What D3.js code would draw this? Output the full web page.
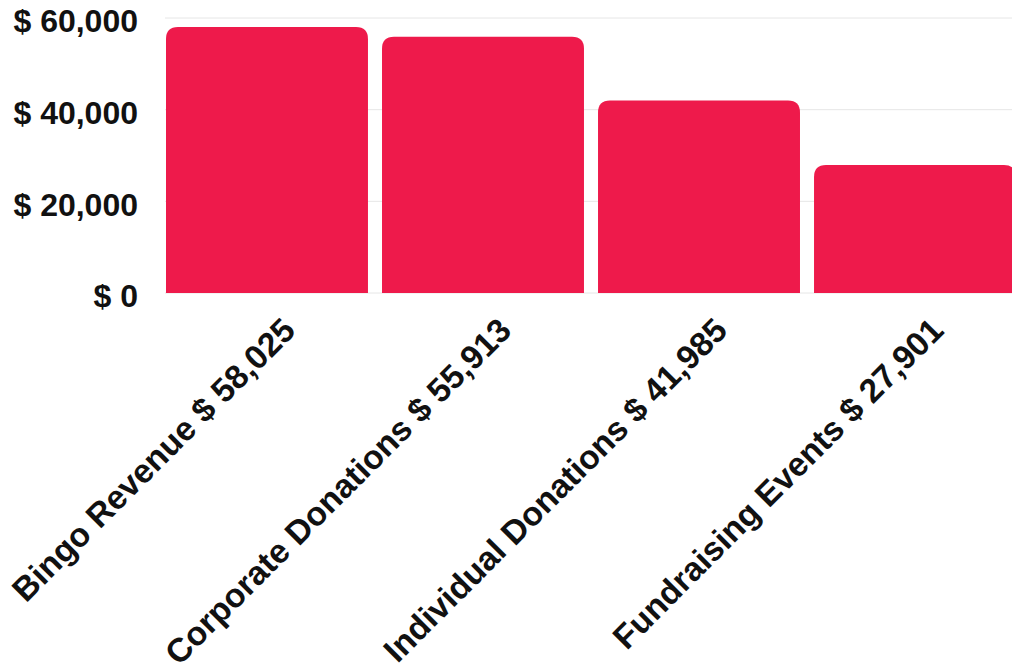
<!DOCTYPE html>
<html><head><meta charset="utf-8">
<script src="https://cdn.jsdelivr.net/npm/d3@7"></script>
<style>body{margin:0;background:#fff;overflow:hidden}svg{display:block}</style>
</head><body>
<svg id="c" width="1012" height="668"></svg>
<script>
const categories = ["Bingo Revenue", "Corporate Donations", "Individual Donations", "Fundraising Events"];
const values = [58025, 55913, 41985, 27901];
const yTicks = [0, 20000, 40000, 60000];

const svg = d3.select("#c");
const x = d3.scaleBand().domain(categories).range([166, 1016]).paddingInner(0.065).paddingOuter(0);
const y = d3.scaleLinear().domain([0, 60000]).range([293, 18]);
const fmt = v => "$ " + d3.format(",")(v);
const font = "'Liberation Sans', Arial, sans-serif";

// gridlines
svg.append("g").selectAll("line").data(yTicks).join("line")
  .attr("x1", 165).attr("x2", 1012)
  .attr("y1", d => y(d)).attr("y2", d => y(d))
  .attr("stroke", "#e6e6e6").attr("stroke-width", 1);

// y labels
svg.append("g").selectAll("text").data(yTicks).join("text")
  .attr("x", 138).attr("y", d => y(d) + 3).attr("dy", "0.35em")
  .attr("text-anchor", "end")
  .style("font-family", font).style("font-weight", "bold").style("font-size", "32px")
  .attr("fill", "#111").text(d => fmt(d));

// bars with rounded top corners
const r = 12;
svg.append("g").selectAll("path").data(categories).join("path")
  .attr("fill", "#ee1a4b")
  .attr("d", (c, i) => {
    const x0 = x(c), x1 = x(c) + x.bandwidth(), yt = y(values[i]), yb = y(0);
    return `M${x0},${yb}V${yt + r}Q${x0},${yt} ${x0 + r},${yt}H${x1 - r}Q${x1},${yt} ${x1},${yt + r}V${yb}Z`;
  });

// x labels
svg.append("g").selectAll("text").data(categories).join("text")
  .attr("transform", c => `translate(${x(c) + x.bandwidth() / 2 + 22},${324}) rotate(-45)`)
  .attr("text-anchor", "end").attr("dy", "0.35em")
  .style("font-family", font).style("font-weight", "bold").style("font-size", "33.5px")
  .attr("fill", "#111").text((c, i) => c + " " + fmt(values[i]));
</script>
</body></html>
